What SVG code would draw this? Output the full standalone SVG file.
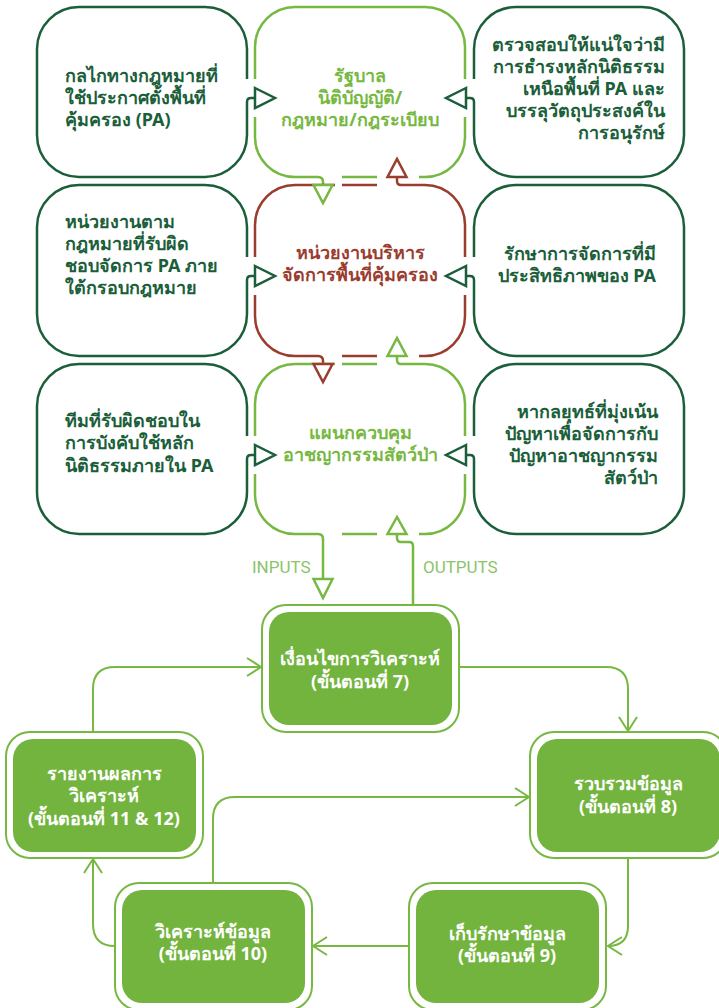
<svg xmlns="http://www.w3.org/2000/svg" width="719" height="1008" viewBox="0 0 719 1008">
<defs>
<style>
.dk{fill:none;stroke:#1b5e3a;stroke-width:2.5}
.lg{fill:none;stroke:#77b843;stroke-width:2.5}
.br{fill:none;stroke:#9a3d2f;stroke-width:2.5}
.tdk{fill:#fff;stroke:#1b5e3a;stroke-width:2.5}
.tlg{fill:#fff;stroke:#77b843;stroke-width:2.5}
.tbr{fill:#fff;stroke:#9a3d2f;stroke-width:2.5}
.t{font-family:"Noto Sans","DejaVu Sans",sans-serif;font-weight:700;font-size:18px}
.cdk{fill:#1b5e3a}
.clg{fill:#77b843}
.cbr{fill:#9a3d2f}
.cw{fill:#fff}
.lab{font-family:Roboto,"Liberation Sans",sans-serif;font-size:17px;fill:#8cc46a}
.ring{fill:#fff;stroke:#77b843;stroke-width:2}
.fill{fill:#72b43e}
.cn{fill:none;stroke:#77b843;stroke-width:2}
</style>
<marker id="chev" markerUnits="userSpaceOnUse" markerWidth="20" markerHeight="22" refX="15" refY="10" orient="auto" overflow="visible">
<path d="M1,1 L15,10 L1,19" fill="none" stroke="#77b843" stroke-width="2"/>
</marker>
</defs>

<g id="left-1">
<path class="dk" d="M247,79 V49 A42,42 0 0 0 205,7 H79 A42,42 0 0 0 37,49 V135 A42,42 0 0 0 79,177 H205 A42,42 0 0 0 247,135 V102 Q247,98 251,98 H255"/>
<path class="tdk" d="M255,88 L275,98 L255,108 Z"/>
<text class="t cdk"><tspan x="65" y="82">กลไกทางกฎหมายที่</tspan><tspan x="65" y="104">ใช้ประกาศตั้งพื้นที่</tspan><tspan x="65" y="126">คุ้มครอง (PA)</tspan></text>
</g>
<g id="right-1">
<path class="dk" d="M474,79 V49 A42,42 0 0 1 516,7 H642 A42,42 0 0 1 684,49 V135 A42,42 0 0 1 642,177 H516 A42,42 0 0 1 474,135 V102 Q474,98 470,98 H466"/>
<path class="tdk" d="M466,88 L446,98 L466,108 Z"/>
<text class="t cdk" text-anchor="end"><tspan x="665" y="51">ตรวจสอบให้แน่ใจว่ามี</tspan><tspan x="665" y="73">การธำรงหลักนิติธรรม</tspan><tspan x="665" y="95">เหนือพื้นที่ PA และ</tspan><tspan x="665" y="117">บรรลุวัตถุประสงค์ใน</tspan><tspan x="665" y="139">การอนุรักษ์</tspan></text>
</g>
<g id="left-2">
<path class="dk" d="M247,257 V227 A42,42 0 0 0 205,185 H79 A42,42 0 0 0 37,227 V314 A42,42 0 0 0 79,356 H205 A42,42 0 0 0 247,314 V280 Q247,276 251,276 H255"/>
<path class="tdk" d="M255,266 L275,276 L255,286 Z"/>
<text class="t cdk"><tspan x="65" y="228">หน่วยงานตาม</tspan><tspan x="65" y="250">กฎหมายที่รับผิด</tspan><tspan x="65" y="272">ชอบจัดการ PA ภาย</tspan><tspan x="65" y="294">ใต้กรอบกฎหมาย</tspan></text>
</g>
<g id="right-2">
<path class="dk" d="M474,257 V227 A42,42 0 0 1 516,185 H642 A42,42 0 0 1 684,227 V314 A42,42 0 0 1 642,356 H516 A42,42 0 0 1 474,314 V280 Q474,276 470,276 H466"/>
<path class="tdk" d="M466,266 L446,276 L466,286 Z"/>
<text class="t cdk" text-anchor="end"><tspan x="656" y="260">รักษาการจัดการที่มี</tspan><tspan x="656" y="282">ประสิทธิภาพของ PA</tspan></text>
</g>
<g id="left-3">
<path class="dk" d="M247,436 V406 A42,42 0 0 0 205,364 H79 A42,42 0 0 0 37,406 V492 A42,42 0 0 0 79,534 H205 A42,42 0 0 0 247,492 V459 Q247,455 251,455 H255"/>
<path class="tdk" d="M255,445 L275,455 L255,465 Z"/>
<text class="t cdk"><tspan x="65" y="427">ทีมที่รับผิดชอบใน</tspan><tspan x="65" y="449">การบังคับใช้หลัก</tspan><tspan x="65" y="472">นิติธรรมภายใน PA</tspan></text>
</g>
<g id="right-3">
<path class="dk" d="M474,436 V406 A42,42 0 0 1 516,364 H642 A42,42 0 0 1 684,406 V492 A42,42 0 0 1 642,534 H516 A42,42 0 0 1 474,492 V459 Q474,455 470,455 H466"/>
<path class="tdk" d="M466,445 L446,455 L466,465 Z"/>
<text class="t cdk" text-anchor="end"><tspan x="658" y="418">หากลยุทธ์ที่มุ่งเน้น</tspan><tspan x="658" y="440">ปัญหาเพื่อจัดการกับ</tspan><tspan x="658" y="462">ปัญหาอาชญากรรม</tspan><tspan x="658" y="484">สัตว์ป่า</tspan></text>
</g>

<g id="center-1">
<path class="lg" d="M255,79 V47 A40,40 0 0 1 295,7 H425 A40,40 0 0 1 465,47 V79"/>
<path class="lg" d="M255,117 V137 A40,40 0 0 0 295,177 H318 Q323,177 323,182 V185"/>
<path class="lg" d="M342,177 H377"/>
<path class="lg" d="M465,117 V137 A40,40 0 0 1 425,177 H419"/>
<text class="t clg" text-anchor="middle"><tspan x="360" y="82">รัฐบาล</tspan><tspan x="360" y="104">นิติบัญญัติ/</tspan><tspan x="360" y="126">กฎหมาย/กฎระเบียบ</tspan></text>
</g>
<g id="center-2">
<path class="br" d="M255,257 V225 A40,40 0 0 1 295,185 H335"/>
<path class="br" d="M342,185 H377"/>
<path class="br" d="M397,177 V181 Q397,185 401,185 H425 A40,40 0 0 1 465,225 V257"/>
<path class="br" d="M255,295 V316 A40,40 0 0 0 295,356 H318 Q323,356 323,361 V364"/>
<path class="br" d="M342,356 H377"/>
<path class="br" d="M465,295 V316 A40,40 0 0 1 425,356 H419"/>
<text class="t cbr" text-anchor="middle"><tspan x="360" y="259">หน่วยงานบริหาร</tspan><tspan x="360" y="281">จัดการพื้นที่คุ้มครอง</tspan></text>
</g>
<g id="center-3">
<path class="lg" d="M255,436 V404 A40,40 0 0 1 295,364 H335"/>
<path class="lg" d="M342,364 H377"/>
<path class="lg" d="M397,356 V360 Q397,364 401,364 H425 A40,40 0 0 1 465,404 V436"/>
<path class="lg" d="M255,474 V494 A40,40 0 0 0 295,534 H318 Q323,534 323,539 V579"/>
<path class="lg" d="M342,534 H377"/>
<path class="lg" d="M465,474 V494 A40,40 0 0 1 425,534 H419"/>
<path class="lg" d="M397,534 V538 Q397,542 401,542 H409 Q413,542 413,546 V605"/>
<text class="t clg" text-anchor="middle"><tspan x="360" y="439">แผนกควบคุม</tspan><tspan x="360" y="461">อาชญากรรมสัตว์ป่า</tspan></text>
</g>
<g id="center-arrows">
<path class="tlg" d="M313.5,185 L332.5,185 L323,203 Z"/>
<path class="tbr" d="M387.5,177 L406.5,177 L397,159 Z"/>
<path class="tbr" d="M313.5,364 L332.5,364 L323,382 Z"/>
<path class="tlg" d="M387.5,356 L406.5,356 L397,338 Z"/>
<path class="tlg" d="M313.5,579 L332.5,579 L323,598 Z"/>
<path class="tlg" d="M387.5,534 L406.5,534 L397,517 Z"/>
</g>
<text class="lab" x="252" y="573">INPUTS</text>
<text class="lab" x="423" y="573">OUTPUTS</text>

<g id="connectors">
<path class="cn" d="M93,732 V689 Q93,667 115,667 H261" marker-end="url(#chev)"/>
<path class="cn" d="M459,667 H606 Q628,667 628,689 V731" marker-end="url(#chev)"/>
<path class="cn" d="M628,858 V926 Q628,946 608,946" marker-end="url(#chev)"/>
<path class="cn" d="M409,946 H313" marker-end="url(#chev)"/>
<path class="cn" d="M115,946 Q93,946 93,924 V859" marker-end="url(#chev)"/>
<path class="cn" d="M213,883 V819 Q213,797 235,797 H529" marker-end="url(#chev)"/>
</g>

<g id="step-7">
<rect class="ring" x="262" y="605" width="197" height="127" rx="24"/>
<rect class="fill" x="269" y="612" width="183" height="113" rx="20"/>
<text class="t cw" text-anchor="middle"><tspan x="360" y="665">เงื่อนไขการวิเคราะห์</tspan><tspan x="360" y="688">(ขั้นตอนที่ 7)</tspan></text>
</g>
<g id="step-8">
<rect class="ring" x="530" y="732" width="197" height="126" rx="24"/>
<rect class="fill" x="537" y="739" width="183" height="113" rx="20"/>
<text class="t cw" text-anchor="middle"><tspan x="628" y="790">รวบรวมข้อมูล</tspan><tspan x="628" y="813">(ขั้นตอนที่ 8)</tspan></text>
</g>
<g id="step-9">
<rect class="ring" x="409" y="883" width="197" height="127" rx="24"/>
<rect class="fill" x="416" y="890" width="183" height="113" rx="20"/>
<text class="t cw" text-anchor="middle"><tspan x="507" y="940">เก็บรักษาข้อมูล</tspan><tspan x="507" y="962">(ขั้นตอนที่ 9)</tspan></text>
</g>
<g id="step-10">
<rect class="ring" x="115" y="883" width="197" height="127" rx="24"/>
<rect class="fill" x="122" y="890" width="183" height="113" rx="20"/>
<text class="t cw" text-anchor="middle"><tspan x="213" y="938">วิเคราะห์ข้อมูล</tspan><tspan x="213" y="960">(ขั้นตอนที่ 10)</tspan></text>
</g>
<g id="step-11-12">
<rect class="ring" x="6" y="732" width="197" height="126" rx="24"/>
<rect class="fill" x="13" y="739" width="183" height="113" rx="20"/>
<text class="t cw" text-anchor="middle"><tspan x="104" y="780">รายงานผลการ</tspan><tspan x="104" y="802">วิเคราะห์</tspan><tspan x="104" y="825">(ขั้นตอนที่ 11 &amp; 12)</tspan></text>
</g>
</svg>
